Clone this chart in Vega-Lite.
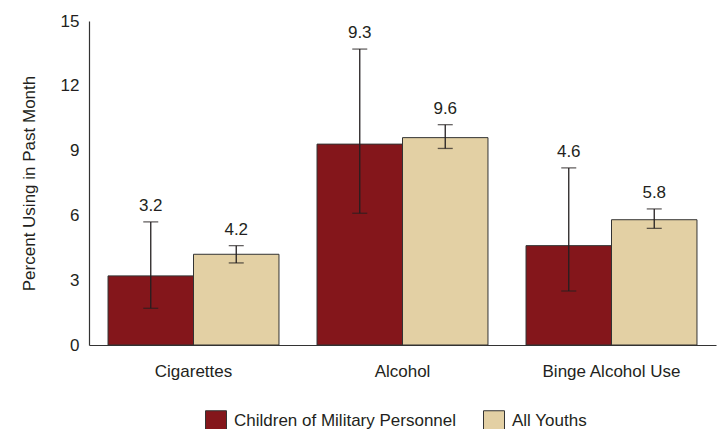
{
  "$schema": "https://vega.github.io/schema/vega-lite/v6.json",
  "width": 627,
  "height": 324,
  "autosize": {"type": "none"},
  "padding": {"left": 89, "top": 21, "right": 2, "bottom": 84},
  "background": "#ffffff",
  "config": {
    "view": {"stroke": null},
    "font": "Liberation Sans, Arial, sans-serif",
    "axis": {"labelFont": "Liberation Sans, Arial, sans-serif", "titleFont": "Liberation Sans, Arial, sans-serif"},
    "legend": {"labelFont": "Liberation Sans, Arial, sans-serif"}
  },
  "data": {
    "values": [
      {"substance": "Cigarettes", "group": "Children of Military Personnel", "pct": 3.2, "lo": 1.7, "hi": 5.7},
      {"substance": "Cigarettes", "group": "All Youths", "pct": 4.2, "lo": 3.8, "hi": 4.6},
      {"substance": "Alcohol", "group": "Children of Military Personnel", "pct": 9.3, "lo": 6.1, "hi": 13.7},
      {"substance": "Alcohol", "group": "All Youths", "pct": 9.6, "lo": 9.1, "hi": 10.2},
      {"substance": "Binge Alcohol Use", "group": "Children of Military Personnel", "pct": 4.6, "lo": 2.5, "hi": 8.2},
      {"substance": "Binge Alcohol Use", "group": "All Youths", "pct": 5.8, "lo": 5.4, "hi": 6.3}
    ]
  },
  "encoding": {
    "x": {
      "field": "substance",
      "type": "nominal",
      "sort": ["Cigarettes", "Alcohol", "Binge Alcohol Use"],
      "scale": {"paddingInner": 0.182, "paddingOuter": 0.091},
      "axis": {
        "title": null,
        "labelAngle": 0,
        "ticks": false,
        "labelPadding": 18,
        "labelFontSize": 17,
        "labelColor": "#231f20",
        "domainColor": "#333333",
        "domainWidth": 1.2
      }
    },
    "xOffset": {
      "field": "group",
      "type": "nominal",
      "sort": ["Children of Military Personnel", "All Youths"]
    }
  },
  "layer": [
    {
      "mark": {"type": "bar", "stroke": "#333333", "strokeWidth": 1},
      "encoding": {
        "y": {
          "field": "pct",
          "type": "quantitative",
          "scale": {"domain": [0, 15], "nice": false},
          "axis": {
            "title": "Percent Using in Past Month",
            "titleFontSize": 17,
            "titleFontWeight": "normal",
            "titleColor": "#231f20",
            "titlePadding": 22,
            "values": [0, 3, 6, 9, 12, 15],
            "ticks": false,
            "grid": false,
            "labelPadding": 10,
            "labelFontSize": 17,
            "labelColor": "#231f20",
            "domainColor": "#333333",
            "domainWidth": 1.2
          }
        },
        "color": {
          "field": "group",
          "type": "nominal",
          "sort": ["Children of Military Personnel", "All Youths"],
          "scale": {"range": ["#84161b", "#e3d0a4"]},
          "legend": {
            "title": null,
            "orient": "none",
            "legendX": 116,
            "legendY": 389,
            "direction": "horizontal",
            "columns": 2,
            "symbolType": "square",
            "symbolSize": 441,
            "symbolStrokeColor": "#333333",
            "symbolStrokeWidth": 1,
            "labelFontSize": 17,
            "labelColor": "#231f20",
            "labelLimit": 400,
            "labelOffset": 7,
            "columnPadding": 24
          }
        }
      }
    },
    {
      "mark": {"type": "rule", "color": "#231f20", "strokeWidth": 1.3},
      "encoding": {
        "y": {"field": "lo", "type": "quantitative"},
        "y2": {"field": "hi"}
      }
    },
    {
      "mark": {"type": "tick", "color": "#231f20", "thickness": 1.3, "size": 15},
      "encoding": {"y": {"field": "lo", "type": "quantitative"}}
    },
    {
      "mark": {"type": "tick", "color": "#231f20", "thickness": 1.3, "size": 15},
      "encoding": {"y": {"field": "hi", "type": "quantitative"}}
    },
    {
      "mark": {"type": "text", "baseline": "alphabetic", "dy": -11, "fontSize": 17, "color": "#231f20"},
      "encoding": {
        "y": {"field": "hi", "type": "quantitative"},
        "text": {"field": "pct", "type": "quantitative", "format": ".1f"}
      }
    }
  ]
}
